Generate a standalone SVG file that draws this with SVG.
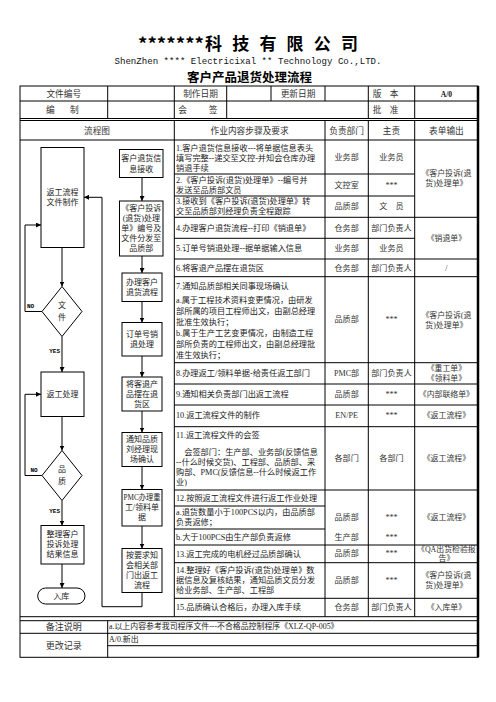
<svg xmlns="http://www.w3.org/2000/svg" width="496" height="702" viewBox="0 0 496 702">
<style>
text{font-family:"Liberation Serif","Noto Sans CJK SC",serif;dominant-baseline:central;fill:#222}
.h{font-size:8.7px;text-anchor:middle;fill:#333}
.s{font-size:8.2px;fill:#1a1a1a}
.c{font-size:8.1px;text-anchor:middle;fill:#333}
.f{font-size:7.9px;text-anchor:middle;fill:#333}
.b{font-size:8px;text-anchor:middle;fill:#222}
.lbl{font-size:6px;font-weight:700;font-family:"Liberation Mono",monospace;fill:#000}
.ln{stroke:#000;stroke-width:1;fill:none}
.bx{fill:#fff;stroke:#000;stroke-width:1}
.cn{stroke:#000;stroke-width:1;fill:none}
.cjk{font-family:"Noto Sans CJK SC",sans-serif}
</style>
<defs>
<marker id="ah" viewBox="0 0 6 6" refX="6" refY="3" markerWidth="5" markerHeight="5" orient="auto" markerUnits="userSpaceOnUse"><path d="M0,0 L6,3 L0,6 z" fill="#000"/></marker>
</defs>
<rect width="496" height="702" fill="#fff"/>

<g id="title">
<text class="cjk" x="138" y="42" font-size="17" font-weight="700" textLength="66" lengthAdjust="spacingAndGlyphs" style="fill:#000">*******</text>
<text class="cjk" x="205 232.2 259.4 286.6 313.8 341" y="42" font-size="17" font-weight="700" style="fill:#000">科技有限公司</text>
<text x="248" y="61" font-size="9.3" text-anchor="middle" textLength="267" lengthAdjust="spacingAndGlyphs" style="font-family:'Liberation Mono',monospace;fill:#111">ShenZhen **** Electricixal ** Technology Co.,LTD.</text>
<text class="cjk" x="249.5" y="76" font-size="12.5" font-weight="700" text-anchor="middle" style="fill:#000">客户产品退货处理流程</text>
</g>

<g id="table">
<rect x="20" y="86" width="458" height="571.3" class="ln" stroke-width="1.5"/>
<line x1="478" y1="86" x2="478" y2="657.3" stroke="#000" stroke-width="2.5"/>
<path class="ln" d="M20,101H478 M20,118.5H478 M20,120.5H478 M20,140H478
M107.7,86V118.5 M174.3,86V118.5 M226.7,86V118.5 M271,86V101 M325,86V101 M368.3,86V118.5 M414.7,86V118.5
M174.3,120.5V616.7 M325,120.5V616.7 M368.3,120.5V616.7 M414.7,120.5V616.7
M174.3,174H414.7 M174.3,196H414.7 M174.3,217.3H478 M174.3,238.3H414.7 M174.3,259H478 M174.3,276.7H478
M174.3,362.7H478 M174.3,384H478 M174.3,405H478 M174.3,426.7H478 M174.3,490H478
M174.3,506H325 M174.3,529H325
M174.3,545H478 M174.3,562.7H478 M174.3,598.3H478
M20,616.7H478 M20,620.7H478 M20,633.3H478 M107.7,645.7H478 M107.7,620.7V657.3"/>

<text class="h" x="63.8" y="94">文件编号</text>
<text class="h" x="200.5" y="94">制作日期</text>
<text class="h" x="298" y="94">更新日期</text>
<text class="h" x="377" y="94">版</text>
<text class="h" x="394" y="94">本</text>
<text x="446.4" y="94" font-size="7.5" font-weight="700" text-anchor="middle" style="fill:#111">A/0</text>
<text class="h" x="50.3" y="110">编</text>
<text class="h" x="74.3" y="110">制</text>
<text class="h" x="182.7" y="110">会</text>
<text class="h" x="213" y="110">签</text>
<text class="h" x="377" y="110">批</text>
<text class="h" x="394" y="110">准</text>

<text class="h" x="97" y="131">流程图</text>
<text class="h" x="249.6" y="131">作业内容步骤及要求</text>
<text class="h" x="346.6" y="131">负责部门</text>
<text class="h" x="391.5" y="131">主责</text>
<text class="h" x="446.4" y="131">表单输出</text>

<g id="steps">
<text class="s" x="176" y="148">1.客户退货信息接收---将单据信息表头</text>
<text class="s" x="176" y="158">填写完整--递交至文控-并知会仓库办理</text>
<text class="s" x="176" y="168">销退手续</text>
<text class="s" x="176" y="180.5">2.《客户投诉(退货)处理单》--编号并</text>
<text class="s" x="176" y="190.5">发送至品质部文员</text>
<text class="s" x="176" y="201.5">3.接收到《客户投诉(退货)处理单》转</text>
<text class="s" x="176" y="211.5">交至品质部刘经理负责全程跟踪</text>
<text class="s" x="176" y="228">4.办理客户退货流程--打印《销退单》</text>
<text class="s" x="176" y="248.7">5.订单号销退处理--据单据输入信息</text>
<text class="s" x="176" y="268">6.将客退产品摆在退货区</text>
<text class="s" x="176" y="286">7.通知品质部相关同事现场确认</text>
<text class="s" x="176" y="300">a.属于工程技术资料变更情况，由研发</text>
<text class="s" x="176" y="311">部所属的项目工程师出文，由副总经理</text>
<text class="s" x="176" y="322">批准生效执行；</text>
<text class="s" x="176" y="333">b.属于生产工艺变更情况，由制造工程</text>
<text class="s" x="176" y="344">部所负责的工程师出文，由副总经理批</text>
<text class="s" x="176" y="355">准生效执行；</text>
<text class="s" x="176" y="373.4">8.办理返工/领料单据-给责任返工部门</text>
<text class="s" x="176" y="394.5">9.通知相关负责部门出返工流程</text>
<text class="s" x="176" y="415.8">10.返工流程文件的制作</text>
<text class="s" x="176" y="435">11.返工流程文件的会签</text>
<text class="s" x="176" y="452">　会签部门：生产部、业务部(反馈信息</text>
<text class="s" x="176" y="462">--什么时候交货)、工程部、品质部、采</text>
<text class="s" x="176" y="472">购部、PMC(反馈信息--什么时候返工作</text>
<text class="s" x="176" y="482">业)</text>
<text class="s" x="176" y="498">12.按照返工流程文件进行返工作业处理</text>
<text class="s" x="176" y="512.5">a.退货数量小于100PCS以内，由品质部</text>
<text class="s" x="176" y="522.5">负责返修；</text>
<text class="s" x="176" y="537.5">b.大于100PCS由生产部负责返修</text>
<text class="s" x="176" y="554">13.返工完成的电机经过品质部确认</text>
<text class="s" x="176" y="570.5">14.整理好《客户投诉(退货)处理单》数</text>
<text class="s" x="176" y="580.5">据信息及复核结果，通知品质文员分发</text>
<text class="s" x="176" y="590.5">给业务部、生产部、工程部</text>
<text class="s" x="176" y="607.5">15.品质确认合格后，办理入库手续</text>
</g>

<g id="dept">
<text class="c" x="346.6" y="157.5">业务部</text>
<text class="c" x="346.6" y="185">文控室</text>
<text class="c" x="346.6" y="206.7">品质部</text>
<text class="c" x="346.6" y="228">仓务部</text>
<text class="c" x="346.6" y="248.7">业务部</text>
<text class="c" x="346.6" y="268">仓务部</text>
<text class="c" x="346.6" y="319.7">品质部</text>
<text class="c" x="346.6" y="373.4">PMC部</text>
<text class="c" x="346.6" y="394.5">品质部</text>
<text class="c" x="346.6" y="415.8">EN/PE</text>
<text class="c" x="346.6" y="458">各部门</text>
<text class="c" x="346.6" y="517.7">品质部</text>
<text class="c" x="346.6" y="537.5">生产部</text>
<text class="c" x="346.6" y="553.8">品质部</text>
<text class="c" x="346.6" y="580.5">品质部</text>
<text class="c" x="346.6" y="607.5">仓务部</text>
</g>

<g id="owner">
<text class="c" x="391.5" y="157.5">业务员</text>
<text class="c" x="391.5" y="185">***</text>
<text class="c" x="391.5" y="206.7">文　员</text>
<text class="c" x="391.5" y="228">部门负责人</text>
<text class="c" x="391.5" y="248.7">业务员</text>
<text class="c" x="391.5" y="268">部门负责人</text>
<text class="c" x="391.5" y="319.7">***</text>
<text class="c" x="391.5" y="373.4">部门负责人</text>
<text class="c" x="391.5" y="394.5">***</text>
<text class="c" x="391.5" y="415.8">***</text>
<text class="c" x="391.5" y="458">各部门</text>
<text class="c" x="391.5" y="517.7">***</text>
<text class="c" x="391.5" y="537.5">***</text>
<text class="c" x="391.5" y="553.8">***</text>
<text class="c" x="391.5" y="580.5">***</text>
<text class="c" x="391.5" y="607.5">部门负责人</text>
</g>

<g id="forms">
<text class="f" x="446.4" y="173.5">《客户投诉(退</text>
<text class="f" x="446.4" y="183.5">货)处理单》</text>
<text class="f" x="446.4" y="238">《销退单》</text>
<text class="f" x="446.4" y="268">/</text>
<text class="f" x="446.4" y="315">《客户投诉(退</text>
<text class="f" x="446.4" y="325">货)处理单》</text>
<text class="f" x="446.4" y="368.5">《重工单》</text>
<text class="f" x="446.4" y="378.5">《领料单》</text>
<text class="f" x="446.4" y="394.5">《内部联络单》</text>
<text class="f" x="446.4" y="415.8">《返工流程》</text>
<text class="f" x="446.4" y="458">《返工流程》</text>
<text class="f" x="446.4" y="517.7">《返工流程》</text>
<text class="f" x="446.4" y="549.5">《QA出货检验报</text>
<text class="f" x="446.4" y="558.5">告》</text>
<text class="f" x="446.4" y="575.5">《客户投诉(退</text>
<text class="f" x="446.4" y="585.5">货)处理单》</text>
<text class="f" x="446.4" y="607.5">《入库单》</text>
</g>

<text x="63.8" y="627" font-size="9" text-anchor="middle" style="fill:#333">备注说明</text>
<text x="63.8" y="645.5" font-size="9" text-anchor="middle" style="fill:#333">更改记录</text>
<text x="109" y="626.5" font-size="7.9" style="fill:#222">a.以上内容参考我司程序文件---不合格品控制程序《XLZ-QP-005》</text>
<text x="109" y="639.5" font-size="7.9" style="fill:#222">A/0.新出</text>
</g>

<g id="connectors">
<path class="cn" d="M62,247.5V286.5" marker-end="url(#ah)"/>
<path class="cn" d="M62,336.5V372" marker-end="url(#ah)"/>
<path class="cn" d="M42,311.5H25V225H41" marker-end="url(#ah)"/>
<path class="cn" d="M62,416.5V450.5" marker-end="url(#ah)"/>
<path class="cn" d="M42,475.5H25V394.3H41" marker-end="url(#ah)"/>
<path class="cn" d="M62,500.5V525.5" marker-end="url(#ah)"/>
<path class="cn" d="M62,564V588" marker-end="url(#ah)"/>
<path class="cn" d="M142,177.5V201" marker-end="url(#ah)"/>
<path class="cn" d="M142,256V273" marker-end="url(#ah)"/>
<path class="cn" d="M142,301.5V322.5" marker-end="url(#ah)"/>
<path class="cn" d="M142,356V377" marker-end="url(#ah)"/>
<path class="cn" d="M142,411V432.5" marker-end="url(#ah)"/>
<path class="cn" d="M142,466.5V489.5" marker-end="url(#ah)"/>
<path class="cn" d="M142,526V548.5" marker-end="url(#ah)"/>
<path class="cn" d="M142,592.5V606.7H102V197.3H84" marker-end="url(#ah)"/>
<text class="lbl" x="30.5" y="306" text-anchor="middle">NO</text>
<text class="lbl" x="60" y="351" text-anchor="end">YES</text>
<text class="lbl" x="34" y="470.5" text-anchor="middle">NO</text>
<text class="lbl" x="60" y="511" text-anchor="end">YES</text>
</g>

<g id="n-rework-doc"><rect class="bx" x="41" y="147.5" width="43" height="100"/><text class="b" x="62.5" y="192">返工流程</text><text class="b" x="62.5" y="202">文件制作</text></g>
<g id="n-doc-check"><polygon class="bx" points="62,286.5 82,311.5 62,336.5 42,311.5"/><text class="b" x="62" y="305">文</text><text class="b" x="62" y="317">件</text></g>
<g id="n-rework"><rect class="bx" x="41" y="372" width="43" height="44.5"/><text class="b" x="62.5" y="394.3">返工处理</text></g>
<g id="n-quality"><polygon class="bx" points="62,450.5 82,475.5 62,500.5 42,475.5"/><text class="b" x="62" y="469">品</text><text class="b" x="62" y="481">质</text></g>
<g id="n-summary"><rect class="bx" x="41" y="525.5" width="43" height="38.5"/><text class="b" x="62.5" y="534.7">整理客户</text><text class="b" x="62.5" y="544.7">投诉处理</text><text class="b" x="62.5" y="554.7">结果信息</text></g>
<g id="n-stock"><rect class="bx" x="37.7" y="588" width="47.3" height="16" rx="8"/><text class="b" x="61.3" y="596">入库</text></g>

<g id="n-receive"><rect class="bx" x="119.5" y="149.5" width="43.5" height="28"/><text class="b" x="141.3" y="158.5">客户退货信</text><text class="b" x="141.3" y="169">息接收</text></g>
<g id="n-number"><rect class="bx" x="119.5" y="201" width="43.5" height="55"/><text class="b" x="141.3" y="208.5">《客户投诉</text><text class="b" x="141.3" y="218.5">(退货)处理</text><text class="b" x="141.3" y="228.5">单》编号及</text><text class="b" x="141.3" y="238.5">文件分发至</text><text class="b" x="141.3" y="248.5">品质部</text></g>
<g id="n-return-proc"><rect class="bx" x="122" y="273" width="40" height="28.5"/><text class="b" x="142" y="282.5">办理客户</text><text class="b" x="142" y="292.5">退货流程</text></g>
<g id="n-order"><rect class="bx" x="122" y="322.5" width="40" height="33.5"/><text class="b" x="142" y="334">订单号销</text><text class="b" x="142" y="344.5">退处理</text></g>
<g id="n-place"><rect class="bx" x="122" y="377" width="40" height="34"/><text class="b" x="142" y="384">将客退产</text><text class="b" x="142" y="394">品摆在退</text><text class="b" x="142" y="404">货区</text></g>
<g id="n-notify"><rect class="bx" x="122" y="432.5" width="40" height="34"/><text class="b" x="142" y="439.5">通知品质</text><text class="b" x="142" y="449.5">刘经理现</text><text class="b" x="142" y="459.5">场确认</text></g>
<g id="n-pmc"><rect class="bx" x="122" y="489.5" width="40" height="36.5"/><text class="b" x="142" y="497.5" textLength="37" lengthAdjust="spacingAndGlyphs">PMC办理重</text><text class="b" x="142" y="507.5">工/领料单</text><text class="b" x="142" y="517.5">据</text></g>
<g id="n-inform"><rect class="bx" x="122" y="548.5" width="40" height="44"/><text class="b" x="142" y="555.5">按要求知</text><text class="b" x="142" y="565.5">会相关部</text><text class="b" x="142" y="575.5">门出返工</text><text class="b" x="142" y="585.5">流程</text></g>
</svg>
